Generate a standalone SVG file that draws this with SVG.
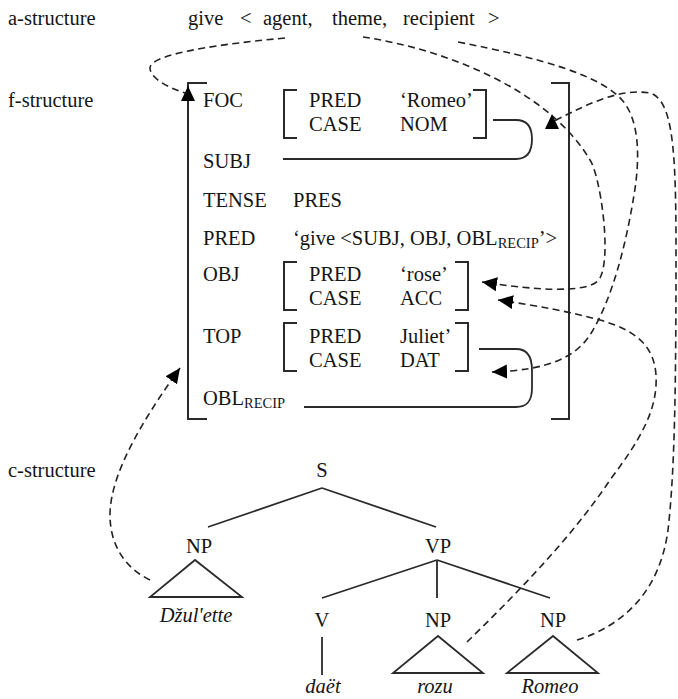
<svg xmlns="http://www.w3.org/2000/svg" width="678" height="699" viewBox="0 0 678 699">
<defs>
<style>
text{font-family:"Liberation Serif","Times New Roman",serif;font-size:20.5px;fill:#151515}
.it{font-style:italic}
.m{text-anchor:middle}
.sub{font-size:14.5px}
.br{fill:none;stroke:#2a2a2a;stroke-width:2}
.ln{fill:none;stroke:#2a2a2a;stroke-width:1.8}
.ds{fill:none;stroke:#222;stroke-width:1.6;stroke-dasharray:7 4.5}
</style>
<marker id="ah" markerUnits="userSpaceOnUse" markerWidth="16" markerHeight="16" refX="15" refY="7" orient="auto" viewBox="0 0 16 14">
<path d="M0,0 L15,7 L0,14 Z" fill="#000"/>
</marker>
<marker id="up" markerUnits="userSpaceOnUse" markerWidth="16" markerHeight="16" refX="7" refY="7" orient="-90" viewBox="0 0 16 14">
<path d="M0,0 L15,7 L0,14 Z" fill="#000"/>
</marker>
</defs>
<rect width="678" height="699" fill="#fff"/>

<g id="labels">
<text x="8" y="25">a-structure</text>
<text x="8" y="107">f-structure</text>
<text x="8" y="477">c-structure</text>
</g>

<g id="a-structure">
<text x="188" y="25">give</text>
<text x="240" y="25">&lt;</text>
<text x="263" y="25">agent,</text>
<text x="332" y="25">theme,</text>
<text x="403" y="25">recipient</text>
<text x="488" y="25">&gt;</text>
</g>

<g id="f-structure">
<path class="br" d="M207,83 H188 V419 H207"/>
<path class="br" d="M551,83 H569 V419 H551"/>
<g id="foc">
<text x="203" y="107">FOC</text>
<path class="br" d="M297,90 H284 V138 H297"/>
<path class="br" d="M473,90 H486 V138 H473"/>
<text x="309" y="107">PRED</text><text x="400" y="107">‘Romeo’</text>
<text x="309" y="131">CASE</text><text x="400" y="131">NOM</text>
</g>
<g id="subj"><text x="203" y="168">SUBJ</text></g>
<g id="tense"><text x="203" y="207">TENSE</text><text x="293" y="207">PRES</text></g>
<g id="pred"><text x="203" y="245">PRED</text><text x="293" y="245">‘give &lt;SUBJ, OBJ, OBL<tspan class="sub" dy="3">RECIP</tspan><tspan dy="-3">’&gt;</tspan></text></g>
<g id="obj">
<text x="203" y="281">OBJ</text>
<path class="br" d="M297,262 H284 V310 H297"/>
<path class="br" d="M455,262 H468 V310 H455"/>
<text x="309" y="281">PRED</text><text x="400" y="281">‘rose’</text>
<text x="309" y="305">CASE</text><text x="400" y="305">ACC</text>
</g>
<g id="top">
<text x="203" y="343">TOP</text>
<path class="br" d="M297,323 H284 V371 H297"/>
<path class="br" d="M455,323 H468 V371 H455"/>
<text x="309" y="343">PRED</text><text x="400" y="343">Juliet’</text>
<text x="309" y="367">CASE</text><text x="400" y="367">DAT</text>
</g>
<g id="obl"><text x="203" y="405">OBL<tspan class="sub" dy="3">RECIP</tspan></text></g>
</g>

<g id="c-structure">
<g id="S"><text class="m" x="322" y="477">S</text></g>
<g id="NP1"><text class="m" x="199" y="553">NP</text><path class="ln" d="M195,560 L150,597 H242 Z"/></g>
<g id="dzulette"><text class="m it" x="196" y="622">Džul'ette</text></g>
<g id="VP"><text class="m" x="438" y="553">VP</text></g>
<g id="V"><text class="m" x="322" y="627">V</text></g>
<g id="NP2"><text class="m" x="438" y="627">NP</text><path class="ln" d="M438,636 L393,673 H483 Z"/></g>
<g id="NP3"><text class="m" x="553" y="627">NP</text><path class="ln" d="M553,636 L507,673 H598 Z"/></g>
<g id="daet"><text class="m it" x="323" y="693">daët</text></g>
<g id="rozu"><text class="m it" x="435" y="693">rozu</text></g>
<g id="romeo"><text class="m it" x="550" y="693">Romeo</text></g>
</g>

<g id="connectors">
<path class="ln" d="M493,120 H516 C528,120 532,128 532,139 C532,150 528,159 516,159 H283"/>
<path class="ln" d="M479,349 H516 C528,349 532,358 532,370 V388 C532,400 528,407 516,407 H304"/>
<path class="ln" d="M322,488 L208,527 M322,488 L436,527"/>
<path class="ln" d="M437,560 L322,598 M437,560 V598 M437,560 L550,598"/>
<path class="ln" d="M322,637 V675"/>
<path class="ds" d="M285,38 C200,46 150,56 150,68 C150,78 168,88 188,94" marker-end="url(#up)"/>
<path class="ds" d="M363,37 C450,50 550,92 590,160 C600,175 612,255 600,278 C594,290 560,294 482,282" marker-end="url(#ah)"/>
<path class="ds" d="M458,42 C540,58 600,75 622,100 C640,120 640,160 634,195 C626,245 612,300 590,335 C575,357 550,370 492,372" marker-end="url(#ah)"/>
<path class="ds" d="M467,642 C510,600 570,540 610,480 C640,440 658,410 656,375 C654,345 635,330 600,320 C570,312 540,306 498,300" marker-end="url(#ah)"/>
<path class="ds" d="M577,640 C625,625 660,590 668,530 C675,470 676,380 676,250 C676,150 673,100 650,93 C620,88 590,103 552,122" marker-end="url(#up)"/>
<path class="ds" d="M150,580 C125,568 110,545 110,515 C110,470 150,410 180,368" marker-end="url(#ah)"/>
</g>
</svg>
